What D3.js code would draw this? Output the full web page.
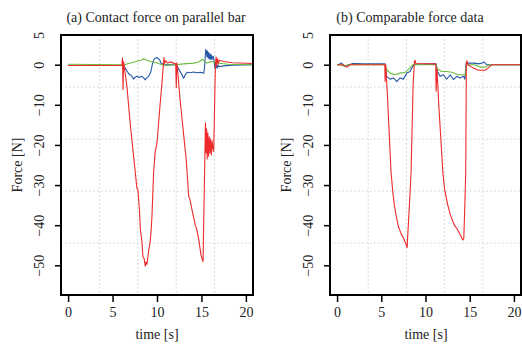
<!DOCTYPE html>
<html>
<head>
<meta charset="utf-8">
<script src="https://cdn.jsdelivr.net/npm/d3@7"></script>
<style>
  body { margin: 0; background: #fff; }
  text { font-family: "Liberation Serif", "Times New Roman", "DejaVu Serif", serif; fill: #222; }
  .grid line { stroke: #cfcfcf; stroke-dasharray: 1.5,2.5; stroke-width: 1; }
  .trace { fill: none; stroke-width: 1.1; stroke-linejoin: round; }
</style>
</head>
<body>
<script>

// ---- data: [time s, force N] ----
var xTicks = [0, 5, 10, 15, 20];
var yTicks = [5, 0, -10, -20, -30, -40, -50];

// (a) contact force on parallel bar
var aBlue = [[0,-0.2],[6.2,-0.2],[6.4,-0.8],[6.8,-2.2],[7.18,-2.9],[7.37,-3.6],[7.55,-3.1],[7.74,-2.9],[8.0,-3.2],[8.3,-2.9],[8.5,-3.3],[8.68,-3.8],[8.85,-3.3],[9.05,-2.9],[9.32,-1.7],[9.5,0.4],[9.7,1.5],[10.0,1.8],[10.3,1.2],[10.45,0.4],[10.75,0],[12.18,0],[12.44,-1.1],[12.8,-2.5],[13.0,-3.4],[13.2,-2.4],[13.38,-1.9],[13.75,-2.0],[14.1,-1.8],[14.5,-2.0],[14.9,-1.9],[15.26,-2.1],[15.36,-0.4],[15.48,3.8],[15.56,3.3],[15.62,2.0],[15.68,3.4],[15.75,1.6],[15.82,3.0],[15.9,1.4],[15.98,2.7],[16.05,1.3],[16.12,2.4],[16.2,1.3],[16.3,2.1],[16.38,1.6],[16.5,-0.6],[16.6,-1.1],[16.7,0.1],[16.8,-0.8],[16.9,-0.1],[17.0,-0.5],[17.5,-0.3],[18.5,-0.1],[20.8,0]];
var aGreen = [[0,0.1],[6.3,0],[6.8,0.3],[7.37,0.6],[7.93,1.0],[8.2,1.1],[8.5,1.5],[8.87,1.1],[9.24,0.8],[9.6,0.6],[10.0,0.4],[10.56,0],[11.1,-0.2],[12.06,0],[13.0,0.2],[14.1,0.4],[14.6,0.6],[14.9,0.9],[15.1,1.4],[15.26,1.0],[15.6,0.4],[16.0,0.7],[16.2,0.8],[16.57,0.4],[17.2,0.3],[18.0,0.1],[20.8,0]];
var aRed = [[0,-0.2],[6.05,-0.2],[6.12,1.7],[6.18,-6.2],[6.24,0.8],[6.32,-0.6],[6.6,-5],[7.0,-15],[7.55,-26.7],[7.74,-30.8],[7.85,-31.2],[8.04,-36.7],[8.12,-40.8],[8.3,-44],[8.42,-47.9],[8.55,-48.3],[8.68,-50.2],[8.75,-49.2],[8.87,-49.8],[9.05,-46.6],[9.24,-43.9],[9.35,-41],[9.44,-37.4],[9.62,-26.7],[9.8,-21.6],[10.0,-19.5],[10.3,-11.2],[10.56,-4.5],[10.75,0.8],[10.78,1.8],[10.85,0.3],[10.95,1.0],[11.2,0.4],[11.5,0.7],[12.1,0.2],[12.17,-5.7],[12.22,0.5],[12.3,-1],[12.6,-8.7],[13.0,-17.5],[13.3,-24],[13.56,-32.8],[13.7,-33.5],[13.94,-36.2],[14.3,-40],[14.45,-40.8],[14.7,-43.6],[14.96,-47.6],[15.18,-49.1],[15.33,-30],[15.45,-14.5],[15.52,-22],[15.58,-16],[15.65,-23.5],[15.72,-17],[15.8,-22.8],[15.88,-18],[15.96,-22],[16.04,-18.5],[16.12,-22.5],[16.2,-19],[16.3,-21],[16.38,-21.6],[16.57,0],[16.65,1.9],[16.72,-0.3],[16.8,1.5],[16.9,0.4],[17.0,1.1],[17.5,0.8],[18.5,0.5],[20.8,0.3]];

// (b) comparable force data
var bBlue = [[0,0],[0.15,0],[0.5,0.4],[0.9,-0.4],[1.3,0],[1.8,0.3],[3,0.2],[5.43,0.2],[5.6,-2.9],[6.0,-3.6],[6.37,-3.3],[6.75,-4.2],[7.13,-3.3],[7.5,-3.6],[7.88,-2.1],[8.26,-1.7],[8.56,-0.4],[8.75,0.1],[11.2,0.2],[11.35,-1.7],[11.65,-2.9],[12.0,-2.5],[12.4,-3.6],[12.8,-2.5],[13.16,-3.7],[13.54,-2.9],[13.9,-3.3],[14.3,-2.9],[14.45,-3.6],[14.6,0.4],[15.5,0.4],[16.0,0.2],[16.4,0.4],[16.6,0.7],[16.9,0],[20.8,0]];
var bGreen = [[0,0],[0.15,0],[0.8,-0.3],[1.4,0],[5.43,0],[5.6,-1.2],[6.0,-2.1],[6.56,-2.5],[7.13,-2.1],[7.7,-1.9],[8.26,-0.8],[8.6,0],[11.2,0],[11.35,-1.1],[11.84,-1.7],[12.4,-1.7],[12.98,-1.9],[13.7,-2.5],[14.3,-2.5],[14.5,-2.7],[14.62,0],[15.5,0],[16.2,-0.6],[16.74,-0.6],[17.3,0],[20.8,0]];
var bRed = [[0,0],[0.7,0],[1.1,-0.6],[1.5,0],[5.4,0],[5.43,-4.2],[5.5,0],[5.7,-8],[6.1,-26.7],[6.3,-31.7],[6.48,-35],[6.67,-37.5],[6.94,-40.4],[7.24,-42.1],[7.54,-43.3],[7.8,-44.8],[7.92,-45.6],[8.18,-35],[8.37,-26.7],[8.6,-5],[8.75,0.8],[8.82,1.1],[8.9,0.3],[11.15,0.2],[11.2,-6.6],[11.3,-1],[11.5,-10],[11.96,-26.7],[12.14,-30.8],[12.52,-35],[12.82,-37.5],[13.27,-40],[13.65,-41.2],[13.95,-42.5],[14.22,-43.7],[14.33,-43.3],[14.45,-35],[14.55,-26.7],[14.62,0.4],[14.68,1.0],[14.8,0],[15.4,-0.8],[15.98,-1.4],[16.74,-1.4],[17.1,-0.8],[17.5,0],[20.8,0]];

var colors = { blue: "#2457a8", green: "#6cbb3c", red: "#ee2a2a" };
var serif = "'Liberation Serif', 'Times New Roman', 'DejaVu Serif', serif";

var panels = [
  { title: "(a) Contact force on parallel bar", left: 61, right: 253, titleX: 156,
    series: [["blue", aBlue], ["green", aGreen], ["red", aRed]] },
  { title: "(b) Comparable force data", left: 330, right: 521, titleX: 410,
    series: [["blue", bBlue], ["green", bGreen], ["red", bRed]] }
];

var plotTop = 35, plotBottom = 295;

var svg = d3.select("body")
  .append("svg")
  .attr("width", 522)
  .attr("height", 345);

panels.forEach(function(p) {
  // R style: 4% padding around data limits
  var x = d3.scaleLinear().domain([-0.8, 20.8]).range([p.left, p.right]);
  var y = d3.scaleLinear().domain([-57.4, 7.4]).range([plotBottom, plotTop]);

  var g = svg.append("g");

  // grid: 5 equal cells each way
  var gx = d3.range(1, 5).map(function(k) { return -0.8 + 21.6 * k / 5; });
  var gy = d3.range(1, 5).map(function(k) { return -57.4 + 64.8 * k / 5; });
  var grid = g.append("g").attr("class", "grid");
  grid.selectAll(".gx").data(gx).enter().append("line")
    .attr("x1", function(d) { return x(d); }).attr("x2", function(d) { return x(d); })
    .attr("y1", plotTop).attr("y2", plotBottom);
  grid.selectAll(".gy").data(gy).enter().append("line")
    .attr("y1", function(d) { return y(d); }).attr("y2", function(d) { return y(d); })
    .attr("x1", p.left).attr("x2", p.right);

  var line = d3.line()
    .x(function(d) { return x(d[0]); })
    .y(function(d) { return y(d[1]); });

  g.append("clipPath").attr("id", "clip" + p.left)
    .append("rect").attr("x", p.left).attr("y", plotTop)
    .attr("width", p.right - p.left).attr("height", plotBottom - plotTop);

  g.append("g").attr("clip-path", "url(#clip" + p.left + ")")
    .selectAll("path").data(p.series).enter().append("path")
    .attr("class", "trace")
    .attr("stroke", function(d) { return colors[d[0]]; })
    .attr("d", function(d) { return line(d[1]); });

  // frame
  g.append("rect")
    .attr("x", p.left).attr("y", plotTop)
    .attr("width", p.right - p.left).attr("height", plotBottom - plotTop)
    .attr("fill", "none").attr("stroke", "#000").attr("stroke-width", 2);

  // x axis
  var xa = g.append("g").attr("transform", "translate(0," + plotBottom + ")")
    .call(d3.axisBottom(x).tickValues(xTicks).tickSize(7).tickPadding(5));
  xa.select(".domain").remove();
  xa.selectAll(".tick line").attr("stroke", "#000").attr("stroke-width", 1.5);
  xa.selectAll("text").attr("font-size", 14).style("font-family", serif).attr("fill", "#222");

  // y axis, labels parallel to axis
  var ya = g.append("g").attr("transform", "translate(" + p.left + ",0)")
    .call(d3.axisLeft(y).tickValues(yTicks).tickSize(6).tickFormat(d3.format("d")));
  ya.select(".domain").remove();
  ya.selectAll(".tick line").attr("stroke", "#000").attr("stroke-width", 1.5)
    .attr("display", function(d) { return d === 5 ? "none" : null; });
  ya.selectAll("text")
    .attr("font-size", 14).style("font-family", serif).attr("fill", "#222")
    .attr("x", 0).attr("dy", 0)
    .attr("text-anchor", "middle")
    // the top label sits level with the frame in the original
    .attr("transform", function(d) {
      var shift = d === 5 ? plotTop - y(5) : 0;
      return "translate(-17," + shift + ") rotate(-90)";
    });

  g.append("text")
    .attr("x", p.titleX).attr("y", 22)
    .attr("text-anchor", "middle").attr("font-size", 14)
    .style("font-family", serif)
    .text(p.title);

  g.append("text")
    .attr("x", (p.left + 192 / 2)).attr("y", 339)
    .attr("text-anchor", "middle").attr("font-size", 14)
    .style("font-family", serif)
    .text("time [s]");

  g.append("text")
    .attr("transform", "translate(" + (p.left - 39) + "," + ((plotTop + plotBottom) / 2) + ") rotate(-90)")
    .attr("text-anchor", "middle").attr("font-size", 14)
    .style("font-family", serif)
    .text("Force [N]");
});

</script>
</body>
</html>
